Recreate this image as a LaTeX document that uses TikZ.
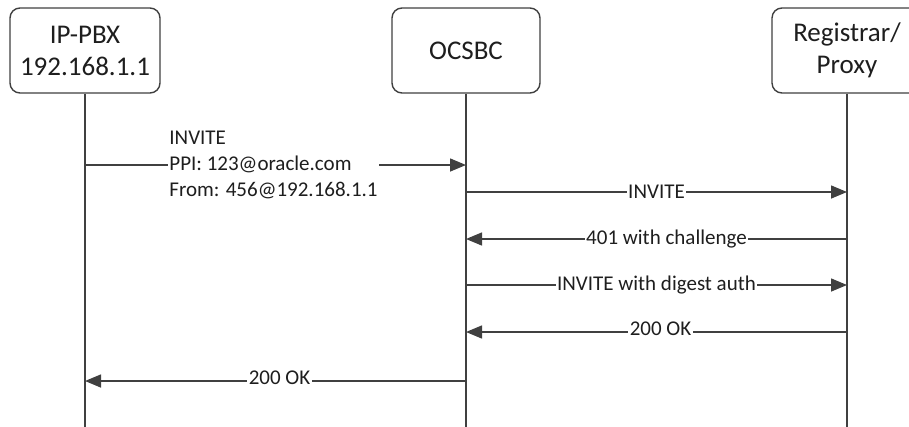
\documentclass[tikz,border=0pt]{standalone}
\usepackage{fontspec}
\setmainfont{Carlito}
\usetikzlibrary{arrows.meta}
\definecolor{ln}{HTML}{404040}
\definecolor{tx}{HTML}{1E1E1E}
\tikzset{
  actor/.style={draw=ln, line width=1.4pt, rounded corners=10pt, fill=white,
    minimum height=85pt, align=center, text=tx, font=\fontsize{27}{32}\selectfont},
  life/.style={draw=ln, line width=2pt},
  msg/.style={draw=ln, line width=1.5pt, -{Triangle[length=16pt,width=13pt]}},
  lbl/.style={fill=white, inner sep=1.5pt, text=tx, font=\fontsize{21}{26}\selectfont},
}
\begin{document}
\begin{tikzpicture}[x=1pt,y=-1pt]
\useasboundingbox (0,0) rectangle (909,426);
\clip (0,0) rectangle (909,426);
\node[actor, minimum width=150pt] (pbx) at (85,50.5) {IP-PBX\\192.168.1.1};
\node[actor, minimum width=148pt] (sbc) at (466,50.5) {OCSBC};
\node[actor, minimum width=150pt] (reg) at (847,50.5) {Registrar/\\Proxy};
\coordinate (bot) at (0,430);
\draw[life] (pbx.south) -- (pbx.south |- bot);
\draw[life] (sbc.south) -- (sbc.south |- bot);
\draw[life] (reg.south) -- (reg.south |- bot);
\coordinate (r1) at (0,165);
\coordinate (r2) at (0,192);
\coordinate (r3) at (0,239);
\coordinate (r4) at (0,285);
\coordinate (r5) at (0,332);
\coordinate (r6) at (0,381);
\draw[msg] (pbx.south |- r1) -- node[lbl, align=left, xshift=-2pt] (m1) {INVITE\\PPI: 123@oracle.com\\From: 456@192.168.1.1} (sbc.south |- r1);
\draw[msg] (sbc.south |- r2) -- node[lbl] (m2) {INVITE} (reg.south |- r2);
\draw[msg] (reg.south |- r3) -- node[lbl, xshift=10pt] (m3) {401 with challenge} (sbc.south |- r3);
\draw[msg] (sbc.south |- r4) -- node[lbl] (m4) {INVITE with digest auth} (reg.south |- r4);
\draw[msg] (reg.south |- r5) -- node[lbl, xshift=4pt, yshift=3pt] (m5) {200 OK} (sbc.south |- r5);
\draw[msg] (sbc.south |- r6) -- node[lbl, xshift=4pt, yshift=3pt] (m6) {200 OK} (pbx.south |- r6);
\end{tikzpicture}
\end{document}
